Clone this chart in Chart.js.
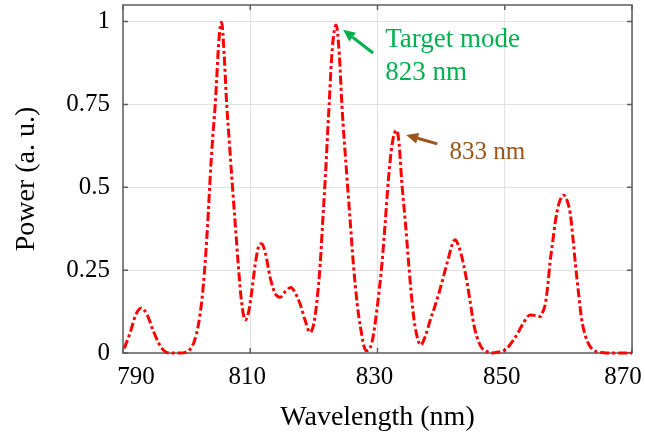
<!DOCTYPE html>
<html>
<head>
<meta charset="utf-8">
<script src="https://cdn.jsdelivr.net/npm/chart.js@4"></script>
<style>
  html, body { margin: 0; padding: 0; background: #fff; }
  canvas { display: block; }
</style>
</head>
<body>
<canvas id="myChart" width="645" height="434"></canvas>
<script>
// wavelength (nm) and normalised power
const wavelength = [
    790.2, 791.1, 792.0, 792.9, 793.8, 794.7, 795.6, 796.3, 797.0, 798.0,
    799.0, 799.8, 800.5, 801.2, 801.8, 802.4, 802.9, 803.4, 803.7, 804.1,
    804.5, 805.1, 805.5, 805.9, 806.3, 806.7, 807.1, 807.6, 808.1, 808.6,
    809.2, 809.7, 810.2, 810.8, 811.3, 811.8, 812.4, 813.1, 813.9, 814.7,
    815.5, 816.4, 817.1, 817.8, 818.6, 819.4, 820.0, 820.5, 821.0, 821.4,
    821.8, 822.4, 822.9, 823.5, 824.0, 824.4, 825.2, 825.7, 826.2, 826.8,
    827.3, 828.2, 829.1, 829.9, 830.7, 831.2, 831.7, 832.3, 833.0, 833.4,
    833.8, 834.4, 834.9, 835.4, 835.9, 836.8, 837.5, 838.3, 839.0, 839.8,
    840.5, 841.2, 841.7, 842.2, 842.8, 843.5, 844.1, 844.6, 845.1, 845.6,
    846.4, 847.2, 848.0, 849.0, 850.1, 851.4, 852.2, 852.9, 854.0, 854.8,
    855.6, 856.0, 856.4, 856.8, 857.1, 857.5, 857.9, 858.5, 859.3, 859.8,
    860.3, 860.7, 861.1, 861.6, 862.1, 862.7, 863.4, 864.2, 865.0, 866.0,
    868.0, 870.0
]
const power = [
    0.014, 0.06, 0.115, 0.136, 0.115, 0.07, 0.03, 0.01, 0.001, 0,
    0, 0.002, 0.01, 0.035, 0.08, 0.16, 0.27, 0.42, 0.53, 0.65,
    0.75, 0.95, 0.998, 0.9, 0.75, 0.64, 0.53, 0.40, 0.27, 0.16,
    0.10, 0.12, 0.18, 0.27, 0.32, 0.33, 0.30, 0.23, 0.18, 0.168,
    0.185, 0.198, 0.18, 0.15, 0.10, 0.062, 0.09, 0.16, 0.27, 0.40,
    0.53, 0.75, 0.92, 0.99, 0.90, 0.75, 0.53, 0.40, 0.27, 0.15,
    0.08, 0.007, 0.03, 0.13, 0.27, 0.39, 0.52, 0.63, 0.672, 0.63,
    0.52, 0.39, 0.27, 0.16, 0.08, 0.024, 0.05, 0.10, 0.14, 0.19,
    0.24, 0.29, 0.325, 0.342, 0.32, 0.27, 0.21, 0.15, 0.09, 0.05,
    0.015, 0.004, 0, 0.003, 0.01, 0.04, 0.065, 0.09, 0.115, 0.113,
    0.11, 0.125, 0.15, 0.21, 0.27, 0.33, 0.39, 0.45, 0.476, 0.46,
    0.42, 0.35, 0.27, 0.18, 0.10, 0.05, 0.02, 0.006, 0.002, 0,
    0, 0
]
const xTicks = [790, 810, 830, 850, 870]
const yTicks = [0, 0.25, 0.5, 0.75, 1]

const serif = "'Liberation Serif', 'Times New Roman', serif"
const frameColor = '#5e5e5e'
// the end labels sit pulled inward in the original figure
const xLabelNudge = [13, -3, -3, -3, -9]

function arrow(ctx, x1, y1, x2, y2, color) {
    const ang = Math.atan2(y2 - y1, x2 - x1)
    const head = 12, half = 5.5
    const bx = x2 - head * Math.cos(ang), by = y2 - head * Math.sin(ang)
    ctx.strokeStyle = color
    ctx.fillStyle = color
    ctx.lineWidth = 3
    ctx.beginPath()
    ctx.moveTo(x1, y1)
    ctx.lineTo(bx, by)
    ctx.stroke()
    ctx.beginPath()
    ctx.moveTo(x2, y2)
    ctx.lineTo(bx + half * Math.sin(ang), by - half * Math.cos(ang))
    ctx.lineTo(bx - half * Math.sin(ang), by + half * Math.cos(ang))
    ctx.closePath()
    ctx.fill()
}

// box with inward ticks, like the matlab axes
const framePlugin = {
    id: 'frame',
    beforeDatasetsDraw(chart) {
        const { ctx, chartArea: a, scales: { x, y } } = chart
        ctx.save()
        ctx.strokeStyle = frameColor
        ctx.lineWidth = 1.5
        ctx.strokeRect(a.left, a.top, a.right - a.left, a.bottom - a.top)
        ctx.beginPath()
        xTicks.forEach(v => {
            const px = x.getPixelForValue(v)
            ctx.moveTo(px, a.bottom); ctx.lineTo(px, a.bottom - 5)
            ctx.moveTo(px, a.top); ctx.lineTo(px, a.top + 5)
        })
        yTicks.forEach(v => {
            const py = y.getPixelForValue(v)
            ctx.moveTo(a.left, py); ctx.lineTo(a.left + 5, py)
            ctx.moveTo(a.right, py); ctx.lineTo(a.right - 5, py)
        })
        ctx.stroke()
        ctx.restore()
    },
    afterDraw(chart) {
        const { ctx, chartArea: a, scales: { x, y } } = chart
        ctx.save()
        // x tick labels
        ctx.fillStyle = '#000'
        ctx.font = '25px ' + serif
        ctx.textAlign = 'center'
        ctx.textBaseline = 'middle'
        xTicks.forEach((v, i) => {
            ctx.fillText(String(v), x.getPixelForValue(v) + xLabelNudge[i], a.bottom + 24)
        })

        arrow(ctx, x.getPixelForValue(829.3), y.getPixelForValue(0.905),
            x.getPixelForValue(824.6), y.getPixelForValue(0.975), '#00b050')
        arrow(ctx, x.getPixelForValue(839.4), y.getPixelForValue(0.631),
            x.getPixelForValue(834.5), y.getPixelForValue(0.658), '#9c5418')
        ctx.textAlign = 'left'
        ctx.textBaseline = 'alphabetic'
        ctx.fillStyle = '#00b050'
        ctx.font = '27px ' + serif
        ctx.fillText('Target mode', x.getPixelForValue(831.2), 47)
        ctx.fillText('823 nm', x.getPixelForValue(831.2), 80)
        ctx.fillStyle = '#9c5418'
        ctx.font = '25px ' + serif
        ctx.fillText('833 nm', x.getPixelForValue(841.3), 159)
        ctx.restore()
    }
}

const ctx = document.getElementById('myChart').getContext('2d')
const myChart = new Chart(ctx, {
    type: 'line',
    data: {
        datasets: [{
            label: 'Power',
            data: wavelength.map((w, i) => ({ x: w, y: power[i] })),
            borderColor: '#ff0000',
            borderWidth: 3,
            borderDash: [9, 3, 3, 3],
            pointRadius: 0,
            fill: false,
            cubicInterpolationMode: 'monotone',
            clip: false
        }]
    },
    options: {
        responsive: false,
        animation: false,
        layout: { padding: { top: 5, right: 13, left: 0, bottom: 0 } },
        plugins: {
            legend: { display: false },
            tooltip: { enabled: false }
        },
        scales: {
            x: {
                type: 'linear',
                min: 790,
                max: 870,
                afterBuildTicks: s => { s.ticks = xTicks.map(v => ({ value: v })) },
                afterFit: s => {
                    s.height = 81
                    s.paddingLeft = 0
                    s.paddingRight = 0
                },
                grid: { color: '#e2e2e2', drawTicks: false },
                border: { display: false },
                ticks: { display: false },
                title: {
                    display: true,
                    text: 'Wavelength (nm)',
                    color: '#000',
                    font: { family: serif, size: 28 },
                    padding: { top: 0, bottom: 0 }
                }
            },
            y: {
                min: 0,
                max: 1.05,
                afterBuildTicks: s => { s.ticks = yTicks.map(v => ({ value: v })) },
                afterFit: s => {
                    s.width = 123
                    s.paddingTop = 0
                    s.paddingBottom = 0
                },
                grid: { color: '#e2e2e2', drawTicks: false },
                border: { display: false },
                ticks: {
                    padding: 13,
                    color: '#000',
                    font: { family: serif, size: 25 },
                    callback: v => String(v)
                },
                title: {
                    display: true,
                    text: 'Power (a. u.)',
                    color: '#000',
                    font: { family: serif, size: 28 },
                    padding: { top: 10, bottom: 0 }
                }
            }
        }
    },
    plugins: [framePlugin]
})
</script>
</body>
</html>
